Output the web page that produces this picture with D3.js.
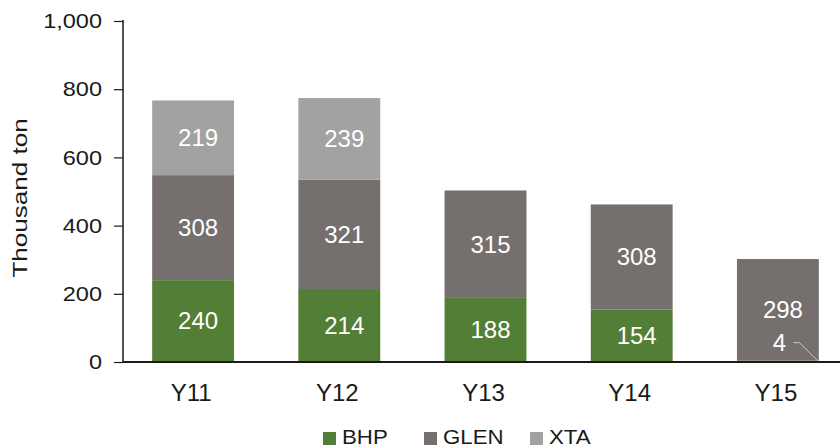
<!DOCTYPE html>
<html>
<head>
<meta charset="utf-8">
<script src="https://cdn.jsdelivr.net/npm/d3@7"></script>
<style>
	body { margin: 0; background: #fff; }
	svg { display: block; font-family: "Liberation Sans", Arial, Helvetica, sans-serif; }
</style>
</head>
<body>
<script>
const w = 840;
const h = 448;

// * DATA
const years = ["Y11", "Y12", "Y13", "Y14", "Y15"];
const bhp = [240, 214, 188, 154, 4];
const glen = [308, 321, 315, 308, 298];
const xta = [219, 239, 0, 0, 0];
const seriesNames = ["BHP", "GLEN", "XTA"];
const seriesColors = ["#537e36", "#75706e", "#a2a2a2"];
const yTicks = [0, 200, 400, 600, 800, 1000];

const rows = years.map((y, i) => ({ year: y, BHP: bhp[i], GLEN: glen[i], XTA: xta[i] }));

const svg = d3.select("body").append("svg").attr("width", w).attr("height", h);

// stretch text a bit wider, the source font is wider than Arial
function stretch(sel, k) {
	sel.each(function () {
		const len = this.getComputedTextLength();
		d3.select(this).attr("textLength", len * k).attr("lengthAdjust", "spacingAndGlyphs");
	});
}

// * SCALES
const xScale = d3.scaleBand().domain(years).range([120, 851]).paddingInner(0.44).paddingOuter(0.22);
const yScale = d3.scaleLinear().domain([0, 1000]).range([362, 21]);
const color = d3.scaleOrdinal().domain(seriesNames).range(seriesColors);

const stack = d3.stack().keys(seriesNames);
const layers = stack(rows);

// * BARS
const layer = svg.selectAll("g.layer")
	.data(layers)
	.enter()
	.append("g")
	.attr("class", "layer")
	.attr("fill", (d) => color(d.key));

layer.selectAll("rect")
	.data((d) => d.filter((s) => s[1] - s[0] > 0))
	.enter()
	.append("rect")
	.attr("x", (d) => xScale(d.data.year))
	.attr("y", (d) => yScale(d[1]))
	.attr("width", xScale.bandwidth())
	.attr("height", (d) => yScale(d[0]) - yScale(d[1]));

// * VALUE LABELS (tiny segment gets a leader line)
layers.forEach((l) => {
	l.forEach((s) => {
		const v = s[1] - s[0];
		if (v <= 0) return;
		const cx = xScale(s.data.year) + xScale.bandwidth() / 2 + 5;
		if (v < 20) {
			const x1 = xScale(s.data.year) + xScale.bandwidth();
			const ly = yScale(s[1]) - 18;
			svg.append("text")
				.attr("x", cx - 3.5)
				.attr("y", ly)
				.attr("dy", "0.35em")
				.attr("text-anchor", "middle")
				.attr("fill", "#fff")
				.attr("font-size", 24)
				.text(v);
			svg.append("polyline")
				.attr("points", [[cx + 10.5, ly], [cx + 16.5, ly], [x1 - 1, yScale(s[0]) - 1]].map((p) => p.join(",")).join(" "))
				.attr("fill", "none")
				.attr("stroke", "#c8c8c8")
				.attr("stroke-width", 1);
			return;
		}
		svg.append("text")
			.attr("x", cx)
			.attr("y", yScale((s[0] + s[1]) / 2))
			.attr("dy", "0.35em")
			.attr("text-anchor", "middle")
			.attr("fill", "#fff")
			.attr("font-size", 24)
			.text(v);
	});
});

// * Y AXIS
const yAxis = d3.axisLeft(yScale).tickValues(yTicks).tickSize(9).tickPadding(12).tickFormat(d3.format(","));
const gy = svg.append("g").attr("transform", "translate(123,0)").call(yAxis);
gy.select(".domain").attr("stroke", "#1a1a1a").attr("stroke-width", 1.5).attr("d", "M0,20V362");
gy.selectAll(".tick line").attr("stroke", "#1a1a1a").attr("stroke-width", 1.2);
gy.selectAll(".tick text").attr("font-size", 21).attr("fill", "#1a1a1a").attr("font-family", "Liberation Sans, Arial, sans-serif");
stretch(gy.selectAll(".tick text"), 1.12);

// * X AXIS
const xAxis = d3.axisBottom(xScale).tickSize(0).tickPadding(22);
const gx = svg.append("g").attr("transform", "translate(0,362)").call(xAxis);
gx.select(".domain").attr("stroke", "#1a1a1a").attr("stroke-width", 1.8).attr("d", "M123,0H840");
gx.selectAll(".tick text").attr("font-size", 24).attr("fill", "#1a1a1a").attr("font-family", "Liberation Sans, Arial, sans-serif").attr("dx", -2);

// * Y LABEL
const yLabel = svg.append("text")
	.attr("transform", "translate(27,198) rotate(-90)")
	.attr("text-anchor", "middle")
	.attr("font-size", 21)
	.attr("fill", "#1a1a1a")
	.text("Thousand ton");
stretch(yLabel, 1.24);

// * LEGEND
const legendX = [323, 424, 530];
const legend = svg.selectAll("g.legend")
	.data(seriesNames)
	.enter()
	.append("g")
	.attr("class", "legend")
	.attr("transform", (d, i) => "translate(" + legendX[i] + ",430)");
legend.append("rect")
	.attr("width", 13)
	.attr("height", 13)
	.attr("y", 2)
	.attr("fill", (d) => color(d));
legend.append("text")
	.attr("x", 19)
	.attr("y", 14)
	.attr("font-size", 21)
	.attr("fill", "#1a1a1a")
	.text((d) => d);
stretch(legend.selectAll("text"), 1.06);
</script>
</body>
</html>
